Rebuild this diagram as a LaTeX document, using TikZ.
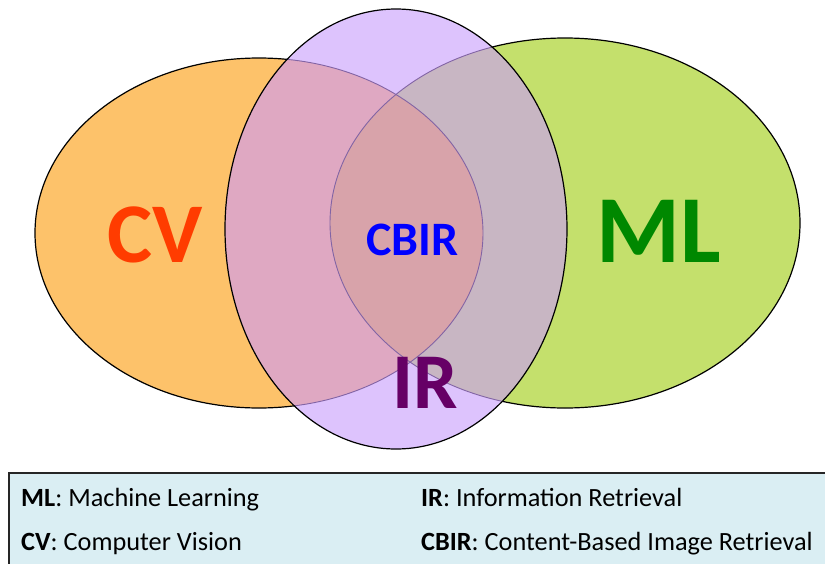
\documentclass[tikz,border=0pt]{standalone}
\usepackage{fontspec}
\setmainfont{Carlito}
\definecolor{cvfill}{RGB}{253,194,106}
\definecolor{mlfill}{RGB}{196,224,108}
\definecolor{irfill}{RGB}{221,195,253}
\definecolor{cvir}{RGB}{223,168,194}
\definecolor{mlir}{RGB}{200,182,195}
\definecolor{allthree}{RGB}{216,163,170}
\definecolor{innerline}{RGB}{130,100,165}
\definecolor{legendfill}{RGB}{218,238,243}
\definecolor{cvtext}{RGB}{255,60,0}
\definecolor{cbirtext}{RGB}{0,0,255}
\definecolor{irtext}{RGB}{102,0,102}
\definecolor{mltext}{RGB}{0,136,0}
\tikzset{
  outline/.style={draw=black,line width=1.2pt},
  inline/.style={draw=innerline,line width=0.9pt},
  bigtext/.style={inner sep=0pt,anchor=base},
  legtext/.style={inner sep=0pt,anchor=base west,font=\fontsize{26.3}{26.3}\selectfont}
}
\def\cvell{(259,233) ellipse [x radius=224,y radius=175]}
\def\mlell{(565,223) ellipse [x radius=235,y radius=185]}
\def\irell{(396,229) ellipse [x radius=171,y radius=220]}
\begin{document}
\begin{tikzpicture}[x=1pt,y=-1pt]
\useasboundingbox (0,0) rectangle (825,563);
% base fills and outer outlines
\fill[cvfill] \cvell;
\fill[mlfill] \mlell;
\path[outline] \cvell;
\path[outline] \mlell;
% IR region with overlaps
\fill[irfill] \irell;
\begin{scope}
  \clip \irell;
  \fill[cvir] \cvell;
  \fill[mlir] \mlell;
  \begin{scope}
    \clip \cvell;
    \fill[allthree] \mlell;
  \end{scope}
  \path[inline] \cvell;
  \path[inline] \mlell;
\end{scope}
\path[outline] \irell;
% big labels
\node[bigtext,text=cvtext,font=\bfseries\fontsize{85}{85}\selectfont] (cv) at (155.5,262) {CV};
\node[bigtext,text=cbirtext,font=\bfseries\fontsize{48}{48}\selectfont] (cbir) at (412.5,255) {CBIR};
\node[bigtext,text=irtext,font=\bfseries\fontsize{79}{79}\selectfont] (ir) at (425,408) {IR};
\node[bigtext,text=mltext,font=\bfseries\fontsize{96}{96}\selectfont] (ml) at (659,262) {ML};
% legend
\path[fill=legendfill,draw=black!85,line width=1.6pt] (9,473) rectangle (840,580);
\node[legtext] (legml) at (21,506) {\textbf{ML}: Machine Learning};
\node[legtext] (legcv) at (21,550.5) {\textbf{CV}: Computer Vision};
\node[legtext] (legir) at (421,506) {\textbf{IR}: Information Retrieval};
\node[legtext] (legcbir) at (421,550.5) {\textbf{CBIR}: Content-Based Image Retrieval};
\end{tikzpicture}
\end{document}
